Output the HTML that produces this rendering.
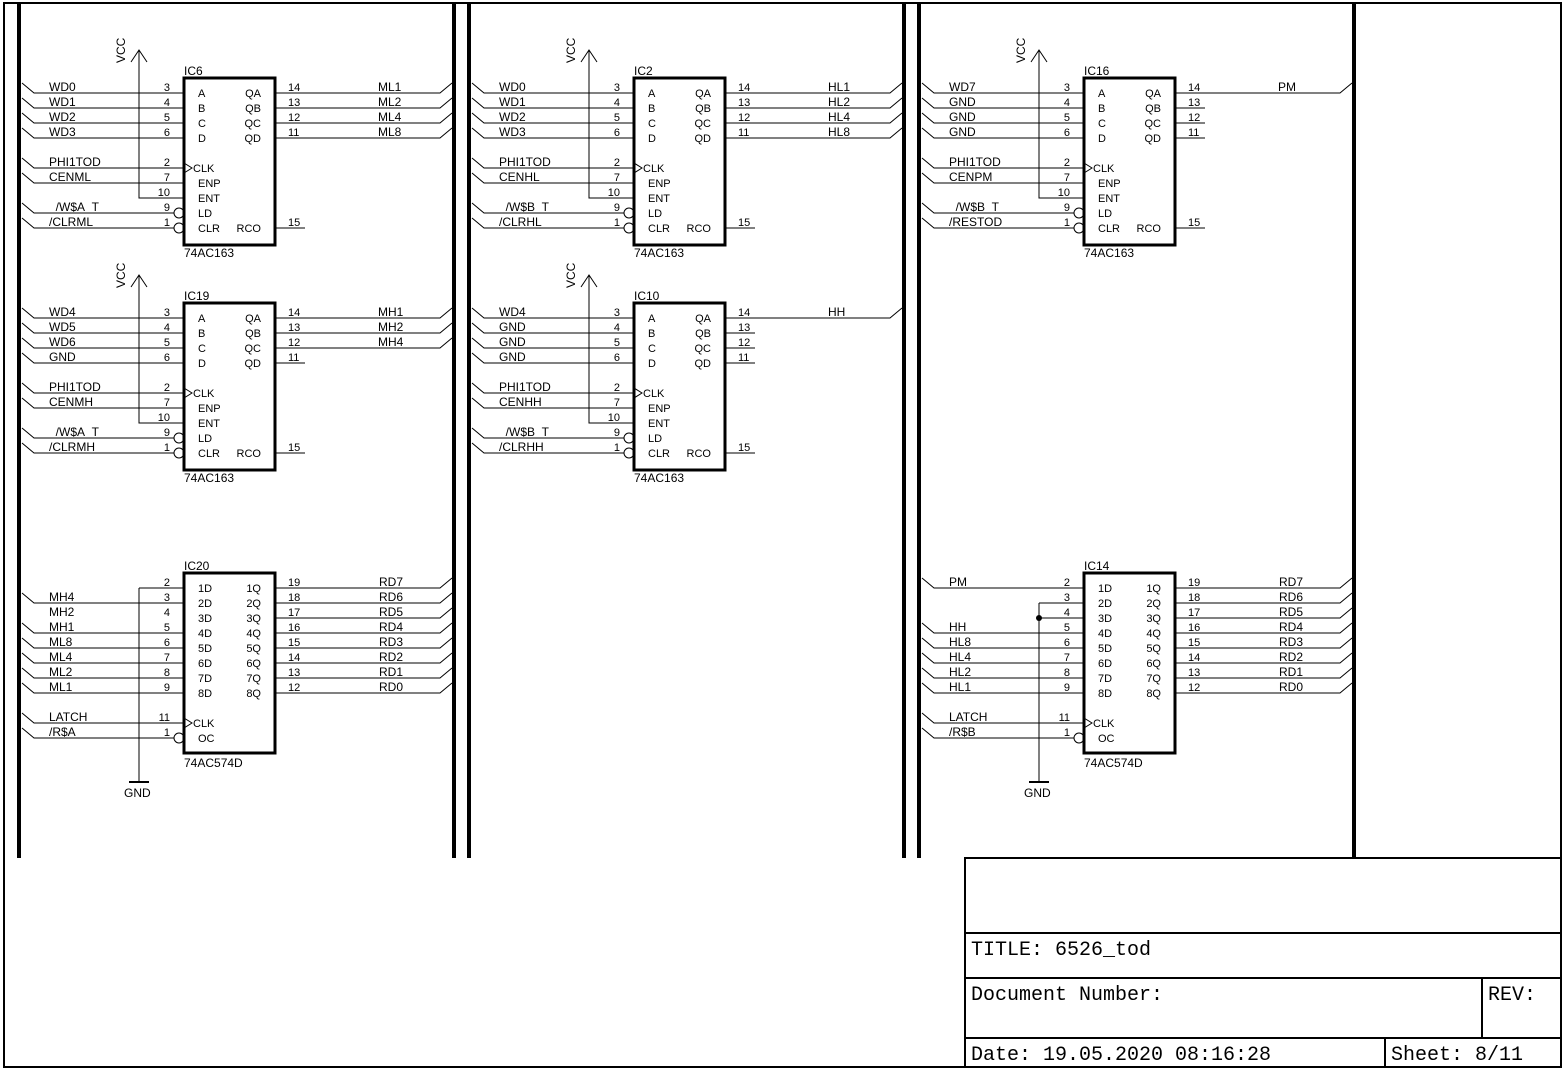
<!DOCTYPE html>
<html><head><meta charset="utf-8"><style>
html,body{margin:0;padding:0;background:#fff;}
svg{display:block;}
text{font-family:"Liberation Sans",sans-serif;font-size:12px;fill:#000;}
.n{font-size:11px;}
.e{text-anchor:end;}
.t{font-family:"Liberation Mono",monospace;font-size:20px;}
</style></head><body>
<svg width="1567" height="1073" viewBox="0 0 1567 1073" xmlns="http://www.w3.org/2000/svg">
<defs>
<g id="t163" fill="none" stroke="#000">
<rect x="184" y="78" width="91" height="167" stroke-width="3"/>
<path d="M22 83L34 93H184M22 98L34 108H184M22 113L34 123H184M22 128L34 138H184M22 158L34 168H184M22 173L34 183H184M22 203L34 213H174M22 218L34 228H174M184 198H139V50M131 62L139 50L147 62M184 163L192 168L184 173M275 228H305"/>
<circle cx="179" cy="213" r="5"/><circle cx="179" cy="228" r="5"/>
</g>
<g id="x163">
<text class="n e" x="170" y="91">3</text><text class="n e" x="170" y="106">4</text><text class="n e" x="170" y="121">5</text><text class="n e" x="170" y="136">6</text><text class="n e" x="170" y="166">2</text><text class="n e" x="170" y="181">7</text><text class="n e" x="170" y="196">10</text><text class="n e" x="170" y="211">9</text><text class="n e" x="170" y="226">1</text>
<text class="n" x="198" y="97">A</text><text class="n" x="198" y="112">B</text><text class="n" x="198" y="127">C</text><text class="n" x="198" y="142">D</text><text class="n" x="193" y="172">CLK</text><text class="n" x="198" y="187">ENP</text><text class="n" x="198" y="202">ENT</text><text class="n" x="198" y="217">LD</text><text class="n" x="198" y="232">CLR</text>
<text class="n e" x="261" y="97">QA</text><text class="n e" x="261" y="112">QB</text><text class="n e" x="261" y="127">QC</text><text class="n e" x="261" y="142">QD</text><text class="n e" x="261" y="232">RCO</text>
<text class="n" x="288" y="91">14</text><text class="n" x="288" y="106">13</text><text class="n" x="288" y="121">12</text><text class="n" x="288" y="136">11</text><text class="n" x="288" y="226">15</text>
<text x="184" y="257">74AC163</text>
<text transform="translate(125,63) rotate(-90)">VCC</text>
</g>
<g id="t574" fill="none" stroke="#000">
<rect x="184" y="573" width="91" height="180" stroke-width="3"/>
<path d="M22 623L34 633H184M22 638L34 648H184M22 653L34 663H184M22 668L34 678H184M22 683L34 693H184M22 713L34 723H184M22 728L34 738H174M184 718L192 723L184 728"/>
<path d="M275 588H440L452 578M275 603H440L452 593M275 618H440L452 608M275 633H440L452 623M275 648H440L452 638M275 663H440L452 653M275 678H440L452 668M275 693H440L452 683"/>
<path d="M129 782H149" stroke-width="2"/>
<circle cx="179" cy="738" r="5"/>
</g>
<g id="x574">
<text class="n e" x="170" y="586">2</text><text class="n e" x="170" y="601">3</text><text class="n e" x="170" y="616">4</text><text class="n e" x="170" y="631">5</text><text class="n e" x="170" y="646">6</text><text class="n e" x="170" y="661">7</text><text class="n e" x="170" y="676">8</text><text class="n e" x="170" y="691">9</text><text class="n e" x="170" y="721">11</text><text class="n e" x="170" y="736">1</text>
<text class="n" x="198" y="592">1D</text><text class="n" x="198" y="607">2D</text><text class="n" x="198" y="622">3D</text><text class="n" x="198" y="637">4D</text><text class="n" x="198" y="652">5D</text><text class="n" x="198" y="667">6D</text><text class="n" x="198" y="682">7D</text><text class="n" x="198" y="697">8D</text><text class="n" x="193" y="727">CLK</text><text class="n" x="198" y="742">OC</text>
<text class="n e" x="261" y="592">1Q</text><text class="n e" x="261" y="607">2Q</text><text class="n e" x="261" y="622">3Q</text><text class="n e" x="261" y="637">4Q</text><text class="n e" x="261" y="652">5Q</text><text class="n e" x="261" y="667">6Q</text><text class="n e" x="261" y="682">7Q</text><text class="n e" x="261" y="697">8Q</text>
<text class="n" x="288" y="586">19</text><text class="n" x="288" y="601">18</text><text class="n" x="288" y="616">17</text><text class="n" x="288" y="631">16</text><text class="n" x="288" y="646">15</text><text class="n" x="288" y="661">14</text><text class="n" x="288" y="676">13</text><text class="n" x="288" y="691">12</text>
<text x="184" y="767">74AC574D</text>
<text x="124" y="797">GND</text>
<text x="379" y="586">RD7</text><text x="379" y="601">RD6</text><text x="379" y="616">RD5</text><text x="379" y="631">RD4</text><text x="379" y="646">RD3</text><text x="379" y="661">RD2</text><text x="379" y="676">RD1</text><text x="379" y="691">RD0</text>
<text x="49" y="721">LATCH</text>
</g>
</defs>

<!-- frame -->
<g fill="none" stroke="#000">
<path d="M4 3H1561V1067H4Z" stroke-width="2"/>
<path d="M19 3V858M454 3V858M469 3V858M904 3V858M919 3V858M1354 3V858" stroke-width="4"/>
<path d="M965 1067V858H1561M965 933H1561M965 978H1561M965 1038H1561M1482 978V1038M1385 1038V1067" stroke-width="2"/>
</g>
<text class="t" x="971" y="955">TITLE:  6526_tod</text>
<text class="t" x="971" y="1000">Document Number:</text>
<text class="t" x="1488" y="1000">REV:</text>
<text class="t" x="971" y="1060">Date: 19.05.2020 08:16:28</text>
<text class="t" x="1391" y="1060">Sheet: 8/11</text>

<!-- Column 1 -->
<use href="#t163"/><use href="#x163"/>
<path d="M275 93H440L452 83M275 108H440L452 98M275 123H440L452 113M275 138H440L452 128" stroke="#000" fill="none"/>
<text x="184" y="75">IC6</text>
<text x="49" y="91">WD0</text><text x="49" y="106">WD1</text><text x="49" y="121">WD2</text><text x="49" y="136">WD3</text><text x="49" y="166">PHI1TOD</text><text x="49" y="181">CENML</text><text x="49" y="211">_/W$A_T</text><text x="49" y="226">/CLRML</text>
<text x="378" y="91">ML1</text><text x="378" y="106">ML2</text><text x="378" y="121">ML4</text><text x="378" y="136">ML8</text>

<g transform="translate(0,225)">
<use href="#t163"/><use href="#x163"/>
<path d="M275 93H440L452 83M275 108H440L452 98M275 123H440L452 113M275 138H305" stroke="#000" fill="none"/>
<text x="184" y="75">IC19</text>
<text x="49" y="91">WD4</text><text x="49" y="106">WD5</text><text x="49" y="121">WD6</text><text x="49" y="136">GND</text><text x="49" y="166">PHI1TOD</text><text x="49" y="181">CENMH</text><text x="49" y="211">_/W$A_T</text><text x="49" y="226">/CLRMH</text>
<text x="378" y="91">MH1</text><text x="378" y="106">MH2</text><text x="378" y="121">MH4</text>
</g>

<use href="#t574"/><use href="#x574"/>
<path d="M22 593L34 603H184M139 588H184M139 588V782" stroke="#000" fill="none"/>
<text x="184" y="570">IC20</text>
<text x="49" y="601">MH4</text><text x="49" y="616">MH2</text><text x="49" y="631">MH1</text><text x="49" y="646">ML8</text><text x="49" y="661">ML4</text><text x="49" y="676">ML2</text><text x="49" y="691">ML1</text><text x="49" y="736">/R$A</text>

<!-- Column 2 -->
<g transform="translate(450,0)">
<use href="#t163"/><use href="#x163"/>
<path d="M275 93H440L452 83M275 108H440L452 98M275 123H440L452 113M275 138H440L452 128" stroke="#000" fill="none"/>
<text x="184" y="75">IC2</text>
<text x="49" y="91">WD0</text><text x="49" y="106">WD1</text><text x="49" y="121">WD2</text><text x="49" y="136">WD3</text><text x="49" y="166">PHI1TOD</text><text x="49" y="181">CENHL</text><text x="49" y="211">_/W$B_T</text><text x="49" y="226">/CLRHL</text>
<text x="378" y="91">HL1</text><text x="378" y="106">HL2</text><text x="378" y="121">HL4</text><text x="378" y="136">HL8</text>
</g>
<g transform="translate(450,225)">
<use href="#t163"/><use href="#x163"/>
<path d="M275 93H440L452 83M275 108H305M275 123H305M275 138H305" stroke="#000" fill="none"/>
<text x="184" y="75">IC10</text>
<text x="49" y="91">WD4</text><text x="49" y="106">GND</text><text x="49" y="121">GND</text><text x="49" y="136">GND</text><text x="49" y="166">PHI1TOD</text><text x="49" y="181">CENHH</text><text x="49" y="211">_/W$B_T</text><text x="49" y="226">/CLRHH</text>
<text x="378" y="91">HH</text>
</g>

<!-- Column 3 -->
<g transform="translate(900,0)">
<use href="#t163"/><use href="#x163"/>
<path d="M275 93H440L452 83M275 108H305M275 123H305M275 138H305" stroke="#000" fill="none"/>
<text x="184" y="75">IC16</text>
<text x="49" y="91">WD7</text><text x="49" y="106">GND</text><text x="49" y="121">GND</text><text x="49" y="136">GND</text><text x="49" y="166">PHI1TOD</text><text x="49" y="181">CENPM</text><text x="49" y="211">_/W$B_T</text><text x="49" y="226">/RESTOD</text>
<text x="378" y="91">PM</text>
</g>
<g transform="translate(900,0)">
<use href="#t574"/><use href="#x574"/>
<path d="M22 578L34 588H184M139 603H184M139 618H184M139 603V782" stroke="#000" fill="none"/>
<circle cx="139" cy="618" r="3" fill="#000"/>
<text x="184" y="570">IC14</text>
<text x="49" y="586">PM</text><text x="49" y="631">HH</text><text x="49" y="646">HL8</text><text x="49" y="661">HL4</text><text x="49" y="676">HL2</text><text x="49" y="691">HL1</text><text x="49" y="736">/R$B</text>
</g>
</svg>
</body></html>
